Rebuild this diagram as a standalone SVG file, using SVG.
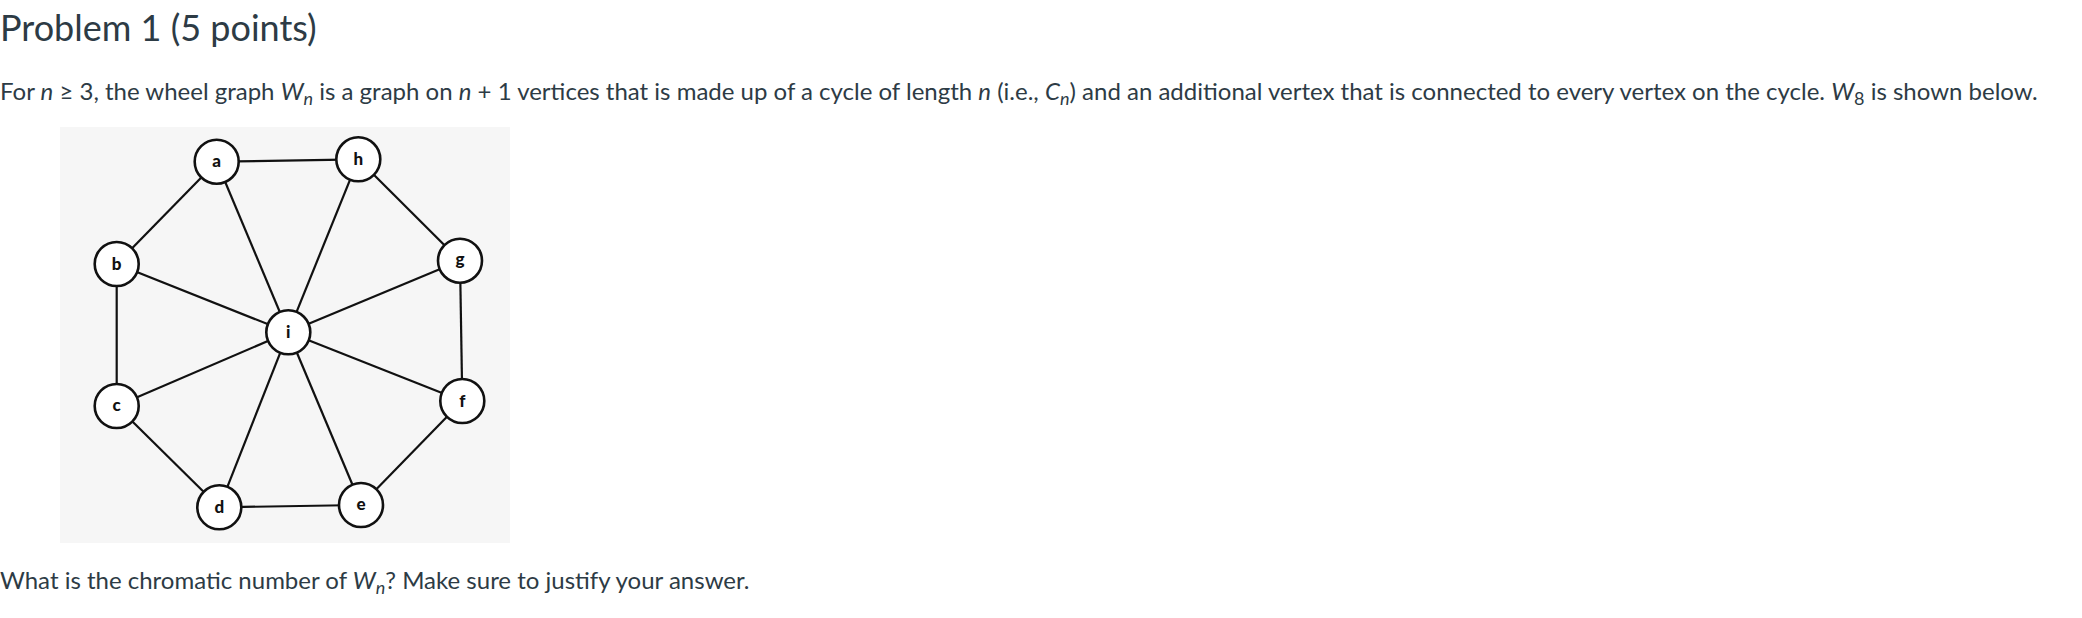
<svg xmlns="http://www.w3.org/2000/svg" width="2082" height="618" viewBox="0 0 2082 618">
<style>
.t{font-family:Lato,"Liberation Sans",sans-serif;fill:#2d3b45}
.title{font-size:36px}
.body{font-size:24px}
.it{font-style:italic}
.e line{stroke:#111;stroke-width:2.2}
.n circle{fill:#fff;stroke:#111;stroke-width:2.6}
.n text{font-family:Lato,"Liberation Sans",sans-serif;font-weight:900;font-size:17px;fill:#111;text-anchor:middle}
</style>
<rect width="2082" height="618" fill="#fff"/>
<text class="t title" x="0" y="41">Problem 1 (5 points)</text>
<text class="t body" x="0" y="100">For <tspan class="it">n</tspan> ≥ 3, the wheel graph <tspan class="it">W</tspan><tspan class="it" font-size="18" dy="5">n</tspan><tspan dy="-5"> is a graph on </tspan><tspan class="it">n</tspan> + 1 vertices that is made up of a cycle of length <tspan class="it">n</tspan> (i.e., <tspan class="it">C</tspan><tspan class="it" font-size="18" dy="5">n</tspan><tspan dy="-5">) and an additional vertex that is connected to every vertex on the cycle. </tspan><tspan class="it">W</tspan><tspan font-size="18" dy="5">8</tspan><tspan dy="-5"> is shown below.</tspan></text>
<rect x="60" y="127" width="450" height="416" fill="#f6f6f6"/>
<g id="edges" class="e">
<line x1="216.7" y1="161.7" x2="358.3" y2="159.3"/>
<line x1="358.3" y1="159.3" x2="460" y2="260.7"/>
<line x1="460" y1="260.7" x2="462.3" y2="401"/>
<line x1="462.3" y1="401" x2="361" y2="505"/>
<line x1="361" y1="505" x2="219.3" y2="507.3"/>
<line x1="219.3" y1="507.3" x2="116.7" y2="406"/>
<line x1="116.7" y1="406" x2="116.7" y2="264"/>
<line x1="116.7" y1="264" x2="216.7" y2="161.7"/>
<line x1="288.3" y1="332.3" x2="216.7" y2="161.7"/>
<line x1="288.3" y1="332.3" x2="358.3" y2="159.3"/>
<line x1="288.3" y1="332.3" x2="460" y2="260.7"/>
<line x1="288.3" y1="332.3" x2="462.3" y2="401"/>
<line x1="288.3" y1="332.3" x2="361" y2="505"/>
<line x1="288.3" y1="332.3" x2="219.3" y2="507.3"/>
<line x1="288.3" y1="332.3" x2="116.7" y2="406"/>
<line x1="288.3" y1="332.3" x2="116.7" y2="264"/>
</g>
<g id="node-a" class="n"><circle cx="216.7" cy="161.7" r="22"/><text x="216.7" y="167">a</text></g>
<g id="node-h" class="n"><circle cx="358.3" cy="159.3" r="22"/><text x="358.3" y="165">h</text></g>
<g id="node-g" class="n"><circle cx="460" cy="260.7" r="22"/><text x="460" y="265">g</text></g>
<g id="node-b" class="n"><circle cx="116.7" cy="264" r="22"/><text x="116.7" y="270">b</text></g>
<g id="node-i" class="n"><circle cx="288.3" cy="332.3" r="22"/><text x="288.3" y="338">i</text></g>
<g id="node-c" class="n"><circle cx="116.7" cy="406" r="22"/><text x="116.7" y="411">c</text></g>
<g id="node-f" class="n"><circle cx="462.3" cy="401" r="22"/><text x="462.3" y="407">f</text></g>
<g id="node-d" class="n"><circle cx="219.3" cy="507.3" r="22"/><text x="219.3" y="513">d</text></g>
<g id="node-e" class="n"><circle cx="361" cy="505" r="22"/><text x="361" y="510">e</text></g>
<text class="t body" x="0" y="589">What is the chromatic number of <tspan class="it">W</tspan><tspan class="it" font-size="18" dy="5">n</tspan><tspan dy="-5">? Make sure to justify your answer.</tspan></text>
</svg>
